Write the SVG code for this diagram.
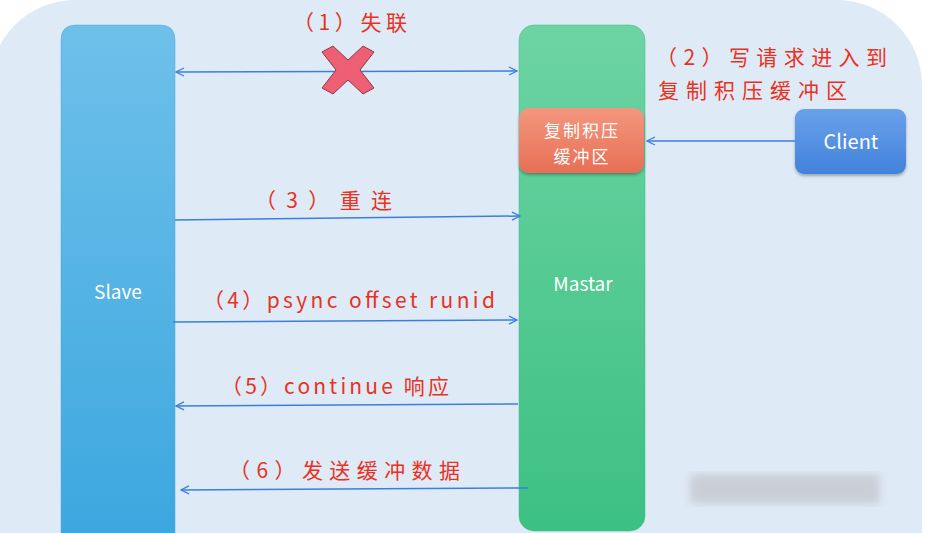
<svg xmlns="http://www.w3.org/2000/svg" width="925" height="533" viewBox="0 0 925 533">
<defs>
<linearGradient id="gSlave" x1="0" y1="0" x2="0" y2="1"><stop offset="0" stop-color="#6ec0ea"/><stop offset="1" stop-color="#3aa6de"/></linearGradient>
<linearGradient id="gMaster" x1="0" y1="0" x2="0" y2="1"><stop offset="0" stop-color="#6dd4a3"/><stop offset="1" stop-color="#3cc083"/></linearGradient>
<linearGradient id="gBuf" x1="0" y1="0" x2="0" y2="1"><stop offset="0" stop-color="#f4977f"/><stop offset="1" stop-color="#e76f55"/></linearGradient>
<linearGradient id="gClient" x1="0" y1="0" x2="0" y2="1"><stop offset="0" stop-color="#6aa1ea"/><stop offset="1" stop-color="#4282dc"/></linearGradient>
<marker id="ah" viewBox="0 0 10 10" refX="9" refY="5" markerWidth="10" markerHeight="10" markerUnits="userSpaceOnUse" orient="auto-start-reverse">
<path d="M1,1 L9,5 L1,9" fill="none" stroke="#3a7fe0" stroke-width="1.3"/>
</marker>
<filter id="blur"><feGaussianBlur stdDeviation="4"/></filter>
<filter id="sh" x="-10%" y="-10%" width="130%" height="130%"><feDropShadow dx="0" dy="2" stdDeviation="1.5" flood-color="#000" flood-opacity="0.3"/></filter>
</defs>
<style>
.lbl{font-family:"Noto Sans CJK SC","Liberation Sans",sans-serif;font-size:21px;fill:#e8321e}
.wt{font-family:"Noto Sans CJK SC","Liberation Sans",sans-serif;fill:#ffffff}
.conn{stroke:#3a7fe0;stroke-width:1.5;fill:none}
</style>
<rect x="0" y="0" width="925" height="533" fill="#ffffff"/>
<rect x="-10" y="0" width="932" height="620" rx="85" ry="85" fill="#dfeaf7"/>
<rect x="690" y="474" width="190" height="30" fill="#c4c8d0" filter="url(#blur)" opacity="0.8"/>
<g id="slave">
<path d="M61,560 L61,40 Q61,25 76,25 L160,25 Q175,25 175,40 L175,560 Z" style="fill:url(#gSlave)" stroke="#4aa8dc" stroke-width="0.5"/>
<text class="wt" x="118" y="299" font-size="19" text-anchor="middle">Slave</text>
</g>
<g id="master">
<rect x="519" y="25" width="126" height="506" rx="15" fill="url(#gMaster)" stroke="#3fba80" stroke-width="0.5"/>
<text class="wt" x="583" y="291" font-size="19" text-anchor="middle">Mastar</text>
</g>
<g id="buffer">
<rect x="519" y="108" width="125" height="65" rx="10" fill="url(#gBuf)" filter="url(#sh)"/>
<text class="wt" x="582" y="137" font-size="17" text-anchor="middle" letter-spacing="2">复制积压</text>
<text class="wt" x="582" y="163" font-size="17" text-anchor="middle" letter-spacing="2">缓冲区</text>
</g>
<g id="client">
<rect x="795" y="109" width="111" height="65" rx="9" fill="url(#gClient)" filter="url(#sh)"/>
<text class="wt" x="851" y="149" font-size="20" text-anchor="middle">Client</text>
</g>
<g id="connectors">
<line class="conn" x1="176" y1="72" x2="517" y2="71" marker-start="url(#ah)" marker-end="url(#ah)"/>
<line class="conn" x1="795" y1="141" x2="647" y2="141" marker-end="url(#ah)"/>
<line class="conn" x1="175" y1="220" x2="520" y2="216" marker-end="url(#ah)"/>
<line class="conn" x1="173" y1="322" x2="517" y2="320" marker-end="url(#ah)"/>
<line class="conn" x1="518" y1="404" x2="176" y2="406" marker-end="url(#ah)"/>
<line class="conn" x1="528" y1="488" x2="181" y2="490" marker-end="url(#ah)"/>
</g>
<g id="cross">
<path d="M322,52 L333,46 L348,60 L363,46 L374,52 L360,70 L374,88 L363,94 L348,80 L333,94 L322,88 L336,70 Z" fill="#ee5f73" stroke="#8a3a4a" stroke-width="1"/>
</g>
<g id="labels">
<text class="lbl" x="293" y="30" textLength="114" lengthAdjust="spacing">（1）失联</text>
<text class="lbl" x="656" y="65" textLength="231" lengthAdjust="spacing">（2）写请求进入到</text>
<text class="lbl" x="658" y="98" textLength="189" lengthAdjust="spacing">复制积压缓冲区</text>
<text class="lbl" x="255" y="208" textLength="137" lengthAdjust="spacing">（3）重连</text>
<text class="lbl" x="203" y="308" textLength="292" lengthAdjust="spacing">（4）psync offset runid</text>
<text class="lbl" x="221" y="394" textLength="228" lengthAdjust="spacing">（5）continue 响应</text>
<text class="lbl" x="229" y="478" textLength="231" lengthAdjust="spacing">（6）发送缓冲数据</text>
</g>
</svg>
